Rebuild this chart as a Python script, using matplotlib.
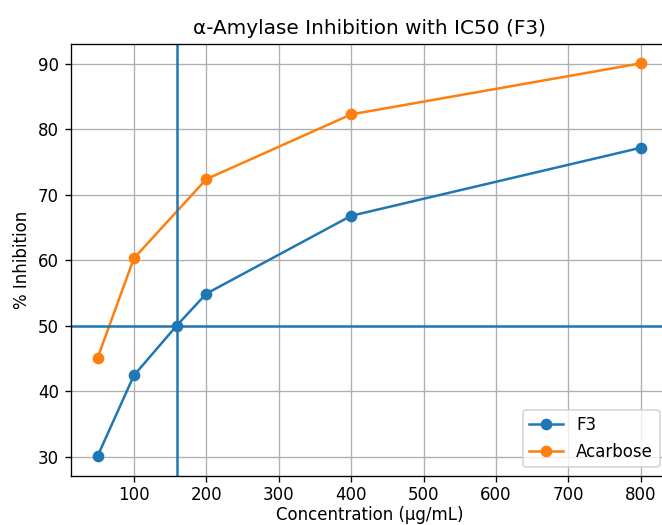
import matplotlib
matplotlib.use("Agg")
import matplotlib.pyplot as plt

# data
conc_f3 = [50, 100, 159, 200, 400, 800]
inhib_f3 = [30.1, 42.4, 50.0, 54.9, 66.8, 77.2]
conc_acarbose = [50, 100, 200, 400, 800]
inhib_acarbose = [45.1, 60.3, 72.4, 82.3, 90.1]
ic50_x = 159
ic50_y = 50

# the reference looks like a ~1.2x upscaled render, so draw at 120 dpi
W, H = 662, 525
fig = plt.figure(figsize=(W / 120, H / 120), dpi=120)
ax = fig.add_axes([70.5 / W, 1 - 475.6 / H, (668 - 70.5) / W, (475.6 - 43.7) / H])

ax.plot(conc_f3, inhib_f3, marker='o', label='F3')
ax.plot(conc_acarbose, inhib_acarbose, marker='o', label='Acarbose')
ax.axhline(ic50_y, color='C0')
ax.axvline(ic50_x, color='C0')

ax.set_title('α-Amylase Inhibition with IC50 (F3)')
ax.set_xlabel('Concentration (µg/mL)', labelpad=1.5)
ax.set_ylabel('% Inhibition')
ax.set_xticks([100, 200, 300, 400, 500, 600, 700, 800])
ax.tick_params(axis='x', pad=2.5)
ax.grid(True)
ax.legend(loc='lower right')

fig.savefig('out.png', dpi=120)
